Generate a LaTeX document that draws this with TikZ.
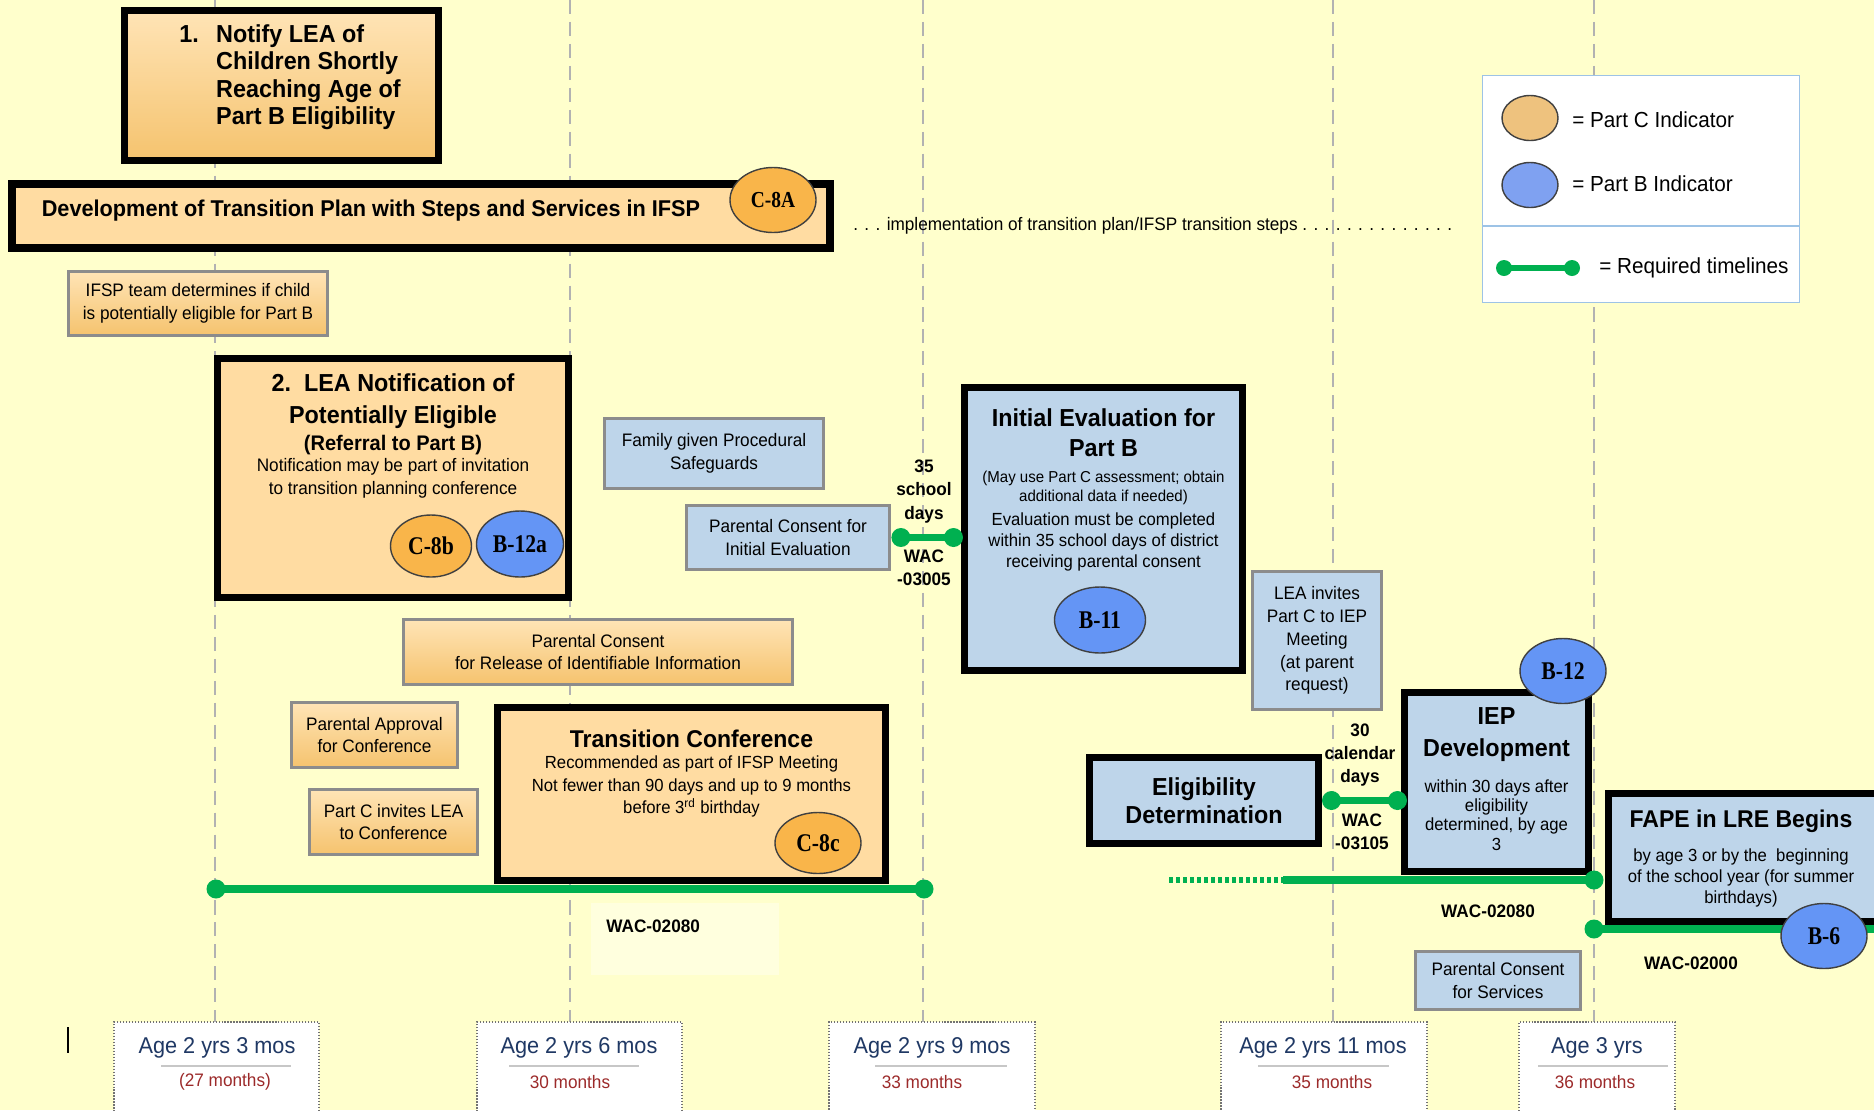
\documentclass[tikz,border=0pt]{standalone}
\usepackage{fontspec}
\setmainfont{Liberation Sans}[FakeStretch=0.95]
\newfontfamily\circfont{Liberation Serif}[FakeStretch=0.85]
\usetikzlibrary{shapes.geometric}

\definecolor{paper}{HTML}{FFFFCC}
\definecolor{paperlight}{HTML}{FFFFDE}
\definecolor{ortop}{HTML}{FFE4B6}
\definecolor{orbot}{HTML}{F5C36E}
\definecolor{orflat}{HTML}{FFDCA2}
\definecolor{blueflat}{HTML}{BED5EA}
\definecolor{colC}{HTML}{F9B54A}
\definecolor{colB}{HTML}{6495F5}
\definecolor{colCl}{HTML}{EEC27E}
\definecolor{colBl}{HTML}{7FA1F1}
\definecolor{tgreen}{HTML}{00B050}
\definecolor{ageblue}{HTML}{1F3864}
\definecolor{agered}{HTML}{9C2A2A}
\definecolor{legline}{HTML}{9DC3E6}
\newcommand\setfs[2]{\fontsize{#1}{#2}\selectfont}

\begin{document}
\begin{tikzpicture}[x=0.02cm, y=-0.02cm,
    sz/.style 2 args={minimum width=#1*0.02cm, minimum height=#2*0.02cm},
    bigbox/.style={draw=black, line width=4pt, inner sep=0pt, align=center},
    obig/.style={bigbox, fill=orflat},
    bbig/.style={bigbox, fill=blueflat},
    obox/.style={draw=black!45, line width=1.6pt, top color=ortop, bottom color=orbot,
        inner sep=0pt, align=center, font=\setfs{10.3}{13}},
    bbox/.style={draw=black!45, line width=1.6pt, fill=blueflat,
        inner sep=0pt, align=center, font=\setfs{10.3}{13}},
    title/.style={font=\bfseries\setfs{14}{17}, align=center, inner sep=0pt},
    note/.style={font=\setfs{10.3}{12.5}, align=center, inner sep=0pt},
    legtxt/.style={font=\setfs{12.4}{14}, inner sep=0pt},
    wac/.style={font=\bfseries\setfs{10.3}{13.3}, align=center, inner sep=0pt},
    ind/.style={ellipse, draw=black!75, line width=0.8pt, inner sep=0pt,
        minimum width=86*0.02cm, minimum height=65*0.02cm,
        font=\circfont\bfseries\setfs{14.5}{16}},
    cind/.style={ind, fill=colC},
    bind/.style={ind, fill=colB},
    tline/.style={draw=tgreen, line width=4.5pt},
    gdot/.style={fill=tgreen},
    guide/.style={draw=black!30, line width=0.6pt, dash pattern=on 8pt off 4.5pt},
    agebox/.style={draw=black!55, densely dotted, line width=0.7pt, fill=white},
    agetxt/.style={font=\setfs{13}{16}, text=ageblue, inner sep=0pt},
    monthtxt/.style={font=\setfs{10.3}{12}, text=agered, inner sep=0pt},
    agesep/.style={draw=black!22, line width=1.2pt}]

    \useasboundingbox (0,0) rectangle (1874,1110);
    \fill[paper] (0,0) rectangle (1874,1110);

    % month guides
    \draw[guide] (215,0) -- (215,1022);
    \draw[guide] (570,0) -- (570,1022);
    \draw[guide] (923,0) -- (923,1022);
    \draw[guide] (1333,0) -- (1333,1022);
    \draw[guide] (1594,0) -- (1594,1022);

    % step 1 and transition plan
    \node[bigbox, top color=ortop, bottom color=orbot, sz={314}{150}] at (281.5,85.5)(notify){};
    \node[anchor=west, inner sep=0pt, font=\bfseries\setfs{14}{15.6}] at (179,78)(notifytxt){%
        \begin{tabular}[t]{@{}p{21pt}@{}l@{}}1. & Notify LEA of\\ & Children Shortly\\ & Reaching Age of\\ & Part B Eligibility\end{tabular}};
    \node[obig, sz={818}{64}] at (421,216)(devplan){};
    \node[title, font=\bfseries\setfs{13}{15}] at (371,211)(devtxt){Development of Transition Plan with Steps and Services in IFSP};
    \node[cind, font=\circfont\bfseries\setfs{13}{15}] at (773,200)(c8a){C-8A};
    \node[anchor=west, inner sep=0pt, font=\setfs{10.3}{12}] at (853,226)(impl){. . . implementation of transition plan/IFSP transition steps . . . . . . . . . . . . . .};

    % legend
    \node[draw=legline, line width=0.8pt, fill=white, sz={317}{227}] at (1641,189)(legend){};
    \coordinate (legsplit) at (1641,226);
    \draw[draw=legline, line width=0.8pt] (legsplit -| legend.west) -- (legsplit -| legend.east);
    \node[ind, fill=colCl, minimum width=56*0.02cm, minimum height=45*0.02cm] at (1530,118)(legc){};
    \node[ind, fill=colBl, minimum width=56*0.02cm, minimum height=45*0.02cm] at (1530,185)(legb){};
    \node[legtxt, anchor=west] at (1572,120)(legctxt){= Part C Indicator};
    \node[legtxt, anchor=west] at (1572,184)(legbtxt){= Part B Indicator};
    \coordinate (lg1) at (1504,268);
    \coordinate (lg2) at (1572,268);
    \path[tline, line width=3.4pt] (lg1) edge (lg2);
    \fill[gdot] (lg1) circle [radius=0.16cm] (lg2) circle [radius=0.16cm];
    \node[legtxt, anchor=west] at (1599,268)(legttxt){= Required timelines};

    % step 2
    \node[obox, sz={259}{64}] at (198,303.5)(ifsp){IFSP team determines if child\\is potentially eligible for Part B};
    \node[obig, sz={351}{239}] at (393,478)(leanote){};
    \node[title, font=\bfseries\setfs{14}{18.2}] at (393,401)(leatitle){2.\ \ LEA Notification of\\Potentially Eligible};
    \node[title, font=\bfseries\setfs{12}{14}] at (393,445)(referral){(Referral to Part B)};
    \node[note, font=\setfs{10.3}{13}] at (393,478.5)(leatxt){Notification may be part of invitation\\to transition planning conference};
    \node[cind, minimum width=81*0.02cm, minimum height=62*0.02cm] at (431,546)(c8b){C-8b};
    \node[bind, minimum width=87*0.02cm, minimum height=66*0.02cm] at (520,544)(b12a){B-12a};

    \node[bbox, sz={219}{70}] at (714,453.5)(safeguards){Family given Procedural\\Safeguards};
    \node[bbox, sz={203}{64}] at (788,537.5)(consenteval){Parental Consent for\\Initial Evaluation};
    \node[obox, sz={389}{65}] at (598,652)(release){Parental Consent\\for Release of Identifiable Information};

    % evaluation
    \node[bbig, sz={278}{283}] at (1103.5,529)(initeval){};
    \node[title] at (1103.5,433)(ievtitle){Initial Evaluation for\\Part B};
    \node[note, font=\setfs{9}{10.8}] at (1103.5,487.5)(ievmay){(May use Part C assessment; obtain\\additional data if needed)};
    \node[note, font=\setfs{10}{12}] at (1103.5,542)(ievtxt){Evaluation must be completed\\within 35 school days of district\\receiving parental consent};
    \node[bind, minimum width=91*0.02cm, minimum height=66*0.02cm] at (1100,620)(b11){B-11};
    \node[wac] at (924,491.5)(days35){35\\school\\days};
    \node[wac] at (924,567.5)(wac03005){WAC\\-03005};

    \node[bbox, sz={129}{138}] at (1317,640.5)(leainvite){LEA invites\\Part C to IEP\\Meeting\\(at parent\\request)};

    % eligibility and IEP
    \node[bbig, title, sz={229}{86}, font=\bfseries\setfs{14}{16}] at (1204,800.5)(eligdet){Eligibility\\Determination};
    \node[bbig, sz={184}{179}] at (1496.5,782)(iepdev){};
    \node[title, font=\bfseries\setfs{14}{18.2}] at (1496.5,735)(ieptitle){IEP\\Development};
    \node[note, font=\setfs{10}{11}] at (1496.5,815)(ieptxt){within 30 days after\\eligibility\\determined, by age\\3};
    \node[bind] at (1563,671)(b12){B-12};
    \node[wac] at (1360,755)(days30){30\\calendar\\days};
    \node[wac] at (1362,832)(wac03105){WAC\\-03105};

    \node[bbig, sz={280}{128}] at (1748.5,857.5)(fape){};
    \node[title, font=\bfseries\setfs{13.8}{16}] at (1741,821)(fapetitle){FAPE in LRE Begins};
    \node[note, font=\setfs{10}{12}] at (1741,878)(fapetxt){by age 3 or by the\ \ beginning\\of the school year (for summer\\birthdays)};

    \node[bbox, sz={165}{58}] at (1498,980.5)(consentserv){Parental Consent\\for Services};

    % conference
    \node[obox, sz={166}{65}] at (374.5,735)(approval){Parental Approval\\for Conference};
    \node[obox, sz={168}{65}] at (393.5,822)(invitelea){Part C invites LEA\\to Conference};
    \node[obig, sz={388}{173}] at (691.5,794)(transconf){};
    \node[title, font=\bfseries\setfs{13.8}{16}] at (691.5,739)(conftitle){Transition Conference};
    \node[note, font=\setfs{10}{12.8}] at (691.5,786.5)(conftxt){Recommended as part of IFSP Meeting\\Not fewer than 90 days and up to 9 months\\before 3\textsuperscript{rd} birthday};
    \node[cind, minimum width=86*0.02cm, minimum height=61*0.02cm] at (818,843)(c8c){C-8c};

    % timelines
    \coordinate (d35a) at ([xshift=0.2cm]consenteval.east);
    \coordinate (d35b) at ([xshift=-0.15cm]consenteval.east -| initeval.west);
    \coordinate (d30a) at ([xshift=0.19cm]eligdet.east);
    \coordinate (d30b) at ([xshift=-0.07cm]eligdet.east -| iepdev.west);
    \path[tline, line width=4pt]
        (d35a) edge (d35b)
        (d30a) edge (d30b)
        ;
    \fill[gdot] (d35a) circle [radius=0.19cm] (d35b) circle [radius=0.19cm]
        (d30a) circle [radius=0.19cm] (d30b) circle [radius=0.19cm];

    \coordinate (tl1a) at (216,889);
    \coordinate (tl1b) at (924,889);
    \path[tline] (tl1a) edge (tl1b);
    \fill[gdot] (tl1a) circle [radius=0.19cm] (tl1b) circle [radius=0.19cm];
    \fill[paperlight] (591,903) rectangle (779,975);
    \node[wac, anchor=west] at (606,926)(wac02080a){WAC-02080};

    \coordinate (tl2s) at (1169,880);
    \coordinate (tl2m) at (1283,880);
    \coordinate (tl2e) at (1594,880);
    \path[tline, line width=3pt, dash pattern=on 2pt off 2pt] (tl2s) edge (tl2m);
    \path[tline] (tl2m) edge (tl2e);
    \fill[gdot] (tl2e) circle [radius=0.19cm];
    \node[wac] at (1488,911)(wac02080b){WAC-02080};

    \coordinate (tl3s) at (1594,929);
    \coordinate (tl3e) at (1880,929);
    \path[tline] (tl3s) edge (tl3e);
    \fill[gdot] (tl3s) circle [radius=0.19cm];
    \node[wac] at (1691,963)(wac02000){WAC-02000};
    \node[bind] at (1824,936)(b6){B-6};

    % ages
    \node[agebox, sz={205}{93}] at (216.5,1068.5)(age1){};
    \node[agetxt] at (217,1048)(age1a){Age 2 yrs 3 mos};
    \draw[agesep] (161,1066) -- (291,1066);
    \node[monthtxt] at (225,1082)(age1b){(27 months)};

    \node[agebox, sz={205}{93}] at (579.5,1068.5)(age2){};
    \node[agetxt] at (579,1048)(age2a){Age 2 yrs 6 mos};
    \draw[agesep] (509,1066) -- (639,1066);
    \node[monthtxt] at (570,1082)(age2b){30 months};

    \node[agebox, sz={206}{93}] at (932,1068.5)(age3){};
    \node[agetxt] at (932,1048)(age3a){Age 2 yrs 9 mos};
    \draw[agesep] (875,1066) -- (1007,1066);
    \node[monthtxt] at (922,1082)(age3b){33 months};

    \node[agebox, sz={206}{93}] at (1324,1068.5)(age4){};
    \node[agetxt] at (1323,1048)(age4a){Age 2 yrs 11 mos};
    \draw[agesep] (1258,1066) -- (1389,1066);
    \node[monthtxt] at (1332,1082)(age4b){35 months};

    \node[agebox, sz={156}{93}] at (1597,1068.5)(age5){};
    \node[agetxt] at (1597,1048)(age5a){Age 3 yrs};
    \draw[agesep] (1538,1066) -- (1668,1066);
    \node[monthtxt] at (1595,1082)(age5b){36 months};

    \draw[line width=1.2pt] (68,1027) -- (68,1053);
\end{tikzpicture}
\end{document}
